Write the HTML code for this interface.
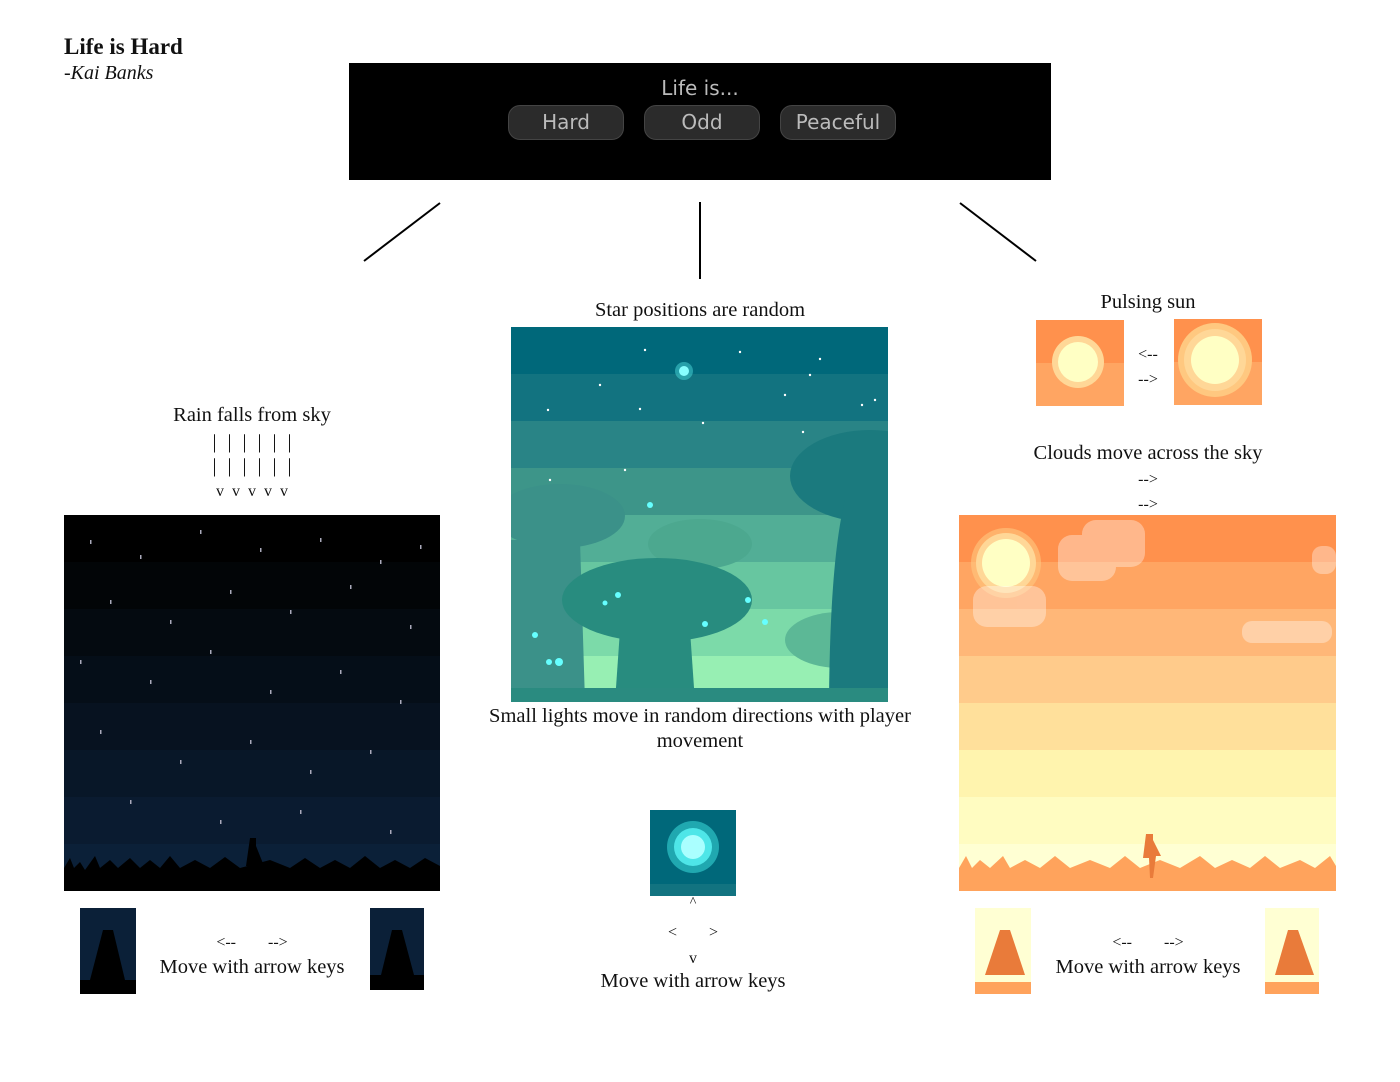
<!DOCTYPE html>
<html><head><meta charset="utf-8"><style>
body{margin:0;background:#fff;width:1400px;height:1082px;overflow:hidden;position:relative;font-family:"Liberation Serif",serif;color:#111}
.t{position:absolute;font-size:20.5px;text-align:center;white-space:nowrap;line-height:25px}
</style></head><body>
<div style="position:absolute;left:64px;top:34px;font-size:23px;font-weight:bold">Life is Hard</div>
<div style="position:absolute;left:64px;top:62px;font-size:20px;font-style:italic">-Kai Banks</div>
<div style="position:absolute;left:349px;top:63px;width:702px;height:117px;background:#000;font-family:'DejaVu Sans',sans-serif;color:#bbb">
 <div style="position:absolute;left:0;width:702px;top:13px;text-align:center;font-size:20px">Life is...</div>
 <div style="position:absolute;left:159px;top:42px;width:114px;height:33px;border-radius:12px;background:#2b2b2b;border:1px solid #444;text-align:center;line-height:33px;font-size:20px">Hard</div>
 <div style="position:absolute;left:295px;top:42px;width:114px;height:33px;border-radius:12px;background:#2b2b2b;border:1px solid #444;text-align:center;line-height:33px;font-size:20px">Odd</div>
 <div style="position:absolute;left:431px;top:42px;width:114px;height:33px;border-radius:12px;background:#2b2b2b;border:1px solid #444;text-align:center;line-height:33px;font-size:20px">Peaceful</div>
</div>
<svg style="position:absolute;left:0;top:0" width="1400" height="1082">
<defs><clipPath id="tc"><rect x="511" y="327" width="377" height="375"/></clipPath></defs>
<line x1="440" y1="203" x2="364" y2="261" stroke="#000" stroke-width="2"/>
<line x1="700" y1="202" x2="700" y2="279" stroke="#000" stroke-width="2"/>
<line x1="960" y1="203" x2="1036" y2="261" stroke="#000" stroke-width="2"/>
<!-- night -->
<g>
<rect x="64" y="515" width="376" height="47" fill="#000"/>
<rect x="64" y="562" width="376" height="47" fill="#020507"/>
<rect x="64" y="609" width="376" height="47" fill="#040a10"/>
<rect x="64" y="656" width="376" height="47" fill="#050e18"/>
<rect x="64" y="703" width="376" height="47" fill="#071220"/>
<rect x="64" y="750" width="376" height="47" fill="#081728"/>
<rect x="64" y="797" width="376" height="47" fill="#0a1b30"/>
<rect x="64" y="844" width="376" height="47" fill="#0b2038"/>
<g fill="#aab">
<rect x="90" y="540" width="1.5" height="4"/><rect x="140" y="555" width="1.5" height="4"/><rect x="200" y="530" width="1.5" height="4"/><rect x="260" y="548" width="1.5" height="4"/><rect x="320" y="538" width="1.5" height="4"/><rect x="380" y="560" width="1.5" height="4"/><rect x="420" y="545" width="1.5" height="4"/>
<rect x="110" y="600" width="1.5" height="4"/><rect x="170" y="620" width="1.5" height="4"/><rect x="230" y="590" width="1.5" height="4"/><rect x="290" y="610" width="1.5" height="4"/><rect x="350" y="585" width="1.5" height="4"/><rect x="410" y="625" width="1.5" height="4"/>
<rect x="80" y="660" width="1.5" height="4"/><rect x="150" y="680" width="1.5" height="4"/><rect x="210" y="650" width="1.5" height="4"/><rect x="270" y="690" width="1.5" height="4"/><rect x="340" y="670" width="1.5" height="4"/><rect x="400" y="700" width="1.5" height="4"/>
<rect x="100" y="730" width="1.5" height="4"/><rect x="180" y="760" width="1.5" height="4"/><rect x="250" y="740" width="1.5" height="4"/><rect x="310" y="770" width="1.5" height="4"/><rect x="370" y="750" width="1.5" height="4"/><rect x="130" y="800" width="1.5" height="4"/><rect x="220" y="820" width="1.5" height="4"/><rect x="300" y="810" width="1.5" height="4"/><rect x="390" y="830" width="1.5" height="4"/>
</g>
<path d="M64 891 L64 868 L70 858 L74 868 L80 862 L85 870 L95 856 L100 868 L110 860 L118 868 L130 858 L140 868 L150 860 L160 868 L170 856 L180 868 L195 860 L210 868 L225 857 L240 868 L270 860 L290 868 L305 858 L320 868 L335 860 L350 868 L365 856 L380 868 L395 860 L410 868 L425 858 L440 866 L440 891Z" fill="#000"/>
<path d="M250 838 h6 v8 l8 20 h-6 l-2 12 h-3 l-1 -12 h-6z" fill="#000"/>
</g>
<!-- teal -->
<g clip-path="url(#tc)">
<rect x="511" y="327" width="377" height="47" fill="#00687a"/>
<rect x="511" y="374" width="377" height="47" fill="#127380"/>
<rect x="511" y="421" width="377" height="47" fill="#298486"/>
<rect x="511" y="468" width="377" height="47" fill="#3d9589"/>
<rect x="511" y="515" width="377" height="47" fill="#52ae96"/>
<rect x="511" y="562" width="377" height="47" fill="#67c6a0"/>
<rect x="511" y="609" width="377" height="47" fill="#7cdaa9"/>
<rect x="511" y="656" width="377" height="46" fill="#97efb3"/>
<ellipse cx="700" cy="544" rx="52" ry="25" fill="#4ca88f"/>
<ellipse cx="840" cy="640" rx="55" ry="28" fill="#5cb896"/>
<ellipse cx="560" cy="516" rx="65" ry="32" fill="#3b9189"/>
<path d="M511 540 L580 540 L585 702 L511 702Z" fill="#3b9189"/>
<ellipse cx="657" cy="600" rx="95" ry="42" fill="#288c7f"/>
<path d="M620 630 L690 630 L695 702 L615 702Z" fill="#288c7f"/>
<ellipse cx="870" cy="476" rx="80" ry="46" fill="#1b7a7e"/>
<path d="M845 500 L888 500 L888 702 L829 702 Q830 560 845 500Z" fill="#1b7a7e"/>
<rect x="511" y="688" width="377" height="14" fill="#2a8b80"/>
<circle cx="684" cy="371" r="9" fill="#3fc6c9" opacity=".6"/><circle cx="684" cy="371" r="5" fill="#8ff"/>
<g fill="#fff"><circle cx="645" cy="350" r="1.2"/><circle cx="740" cy="352" r="1.2"/><circle cx="810" cy="375" r="1.2"/><circle cx="785" cy="395" r="1.2"/><circle cx="875" cy="400" r="1.2"/><circle cx="548" cy="410" r="1.2"/><circle cx="640" cy="409" r="1.2"/><circle cx="820" cy="359" r="1.2"/><circle cx="862" cy="405" r="1.2"/><circle cx="600" cy="385" r="1.2"/><circle cx="703" cy="423" r="1.2"/><circle cx="803" cy="432" r="1.2"/><circle cx="550" cy="480" r="1.2"/><circle cx="625" cy="470" r="1.2"/></g>
<g fill="#6ff"><circle cx="535" cy="635" r="3"/><circle cx="559" cy="662" r="4"/><circle cx="549" cy="662" r="3"/><circle cx="618" cy="595" r="3"/><circle cx="705" cy="624" r="3"/><circle cx="748" cy="600" r="3"/><circle cx="765" cy="622" r="3"/><circle cx="650" cy="505" r="3"/><circle cx="605" cy="603" r="2.5"/></g>
</g>
<!-- orange -->
<g>
<rect x="959" y="515" width="377" height="47" fill="#ff914d"/>
<rect x="959" y="562" width="377" height="47" fill="#ffa562"/>
<rect x="959" y="609" width="377" height="47" fill="#ffb778"/>
<rect x="959" y="656" width="377" height="47" fill="#ffcb8b"/>
<rect x="959" y="703" width="377" height="47" fill="#ffe09b"/>
<rect x="959" y="750" width="377" height="47" fill="#fff4ae"/>
<rect x="959" y="797" width="377" height="47" fill="#fffcc1"/>
<rect x="959" y="844" width="377" height="47" fill="#ffffd3"/>
<circle cx="1006" cy="563" r="35" fill="#ffc880" opacity=".6"/><circle cx="1006" cy="563" r="30" fill="#ffd797"/><circle cx="1006" cy="563" r="24" fill="#ffffc4"/>
<g fill="#fff" opacity=".35"><rect x="1058" y="535" width="58" height="46" rx="14"/><rect x="1082" y="520" width="63" height="47" rx="14"/><rect x="973" y="586" width="73" height="41" rx="14"/><rect x="1242" y="621" width="90" height="22" rx="10"/><rect x="1312" y="546" width="24" height="28" rx="10"/></g>
<path d="M959 891 L959 868 L966 856 L972 868 L980 860 L990 868 L1003 856 L1010 868 L1025 860 L1040 868 L1055 856 L1070 868 L1090 860 L1110 868 L1125 856 L1140 868 L1160 860 L1180 868 L1200 856 L1215 868 L1232 860 L1250 868 L1265 856 L1280 868 L1300 860 L1315 868 L1330 856 L1336 866 L1336 891Z" fill="#ffa35c"/>
<path d="M1146 834 h7 v6 l8 16 h-5 l-3 22 h-3 l-1 -20 h-6z" fill="#e97b3a"/>
</g>
<!-- sun thumbs -->
<rect x="1036" y="320" width="88" height="86" fill="#ffa562"/><rect x="1036" y="320" width="88" height="43" fill="#ff914d"/>
<circle cx="1078" cy="362" r="26" fill="#ffd797"/><circle cx="1078" cy="362" r="20" fill="#ffffc4"/>
<rect x="1174" y="319" width="88" height="86" fill="#ffa562"/><rect x="1174" y="319" width="88" height="43" fill="#ff914d"/>
<circle cx="1215" cy="360" r="37" fill="#ffc880"/><circle cx="1215" cy="360" r="31" fill="#ffd797"/><circle cx="1215" cy="360" r="24" fill="#ffffc4"/>
<!-- orb -->
<rect x="650" y="810" width="86" height="86" fill="#00687a"/><rect x="650" y="884" width="86" height="12" fill="#127380"/>
<circle cx="693" cy="847" r="26" fill="#20a8b0"/><circle cx="693" cy="847" r="19" fill="#4ee6e8"/><circle cx="693" cy="847" r="12" fill="#aff"/>
<!-- player thumbs night -->
<rect x="80" y="908" width="56" height="86" fill="#0b2038"/><path d="M90 980 L103 930 h10 l12 50z" fill="#000"/><rect x="80" y="980" width="56" height="14" fill="#000"/>
<rect x="370" y="908" width="54" height="82" fill="#0b2038"/><path d="M381 975 L392 930 h10 l12 45z" fill="#000"/><rect x="370" y="975" width="54" height="15" fill="#000"/>
<!-- player thumbs day -->
<rect x="975" y="908" width="56" height="86" fill="#ffffd3"/><path d="M985 975 L1000 930 h10 l15 45z" fill="#e97b3a"/><rect x="975" y="982" width="56" height="12" fill="#ffa35c"/>
<rect x="1265" y="908" width="54" height="86" fill="#ffffd3"/><path d="M1275 975 L1288 930 h10 l16 45z" fill="#e97b3a"/><rect x="1265" y="982" width="54" height="12" fill="#ffa35c"/>
</svg>
<div class="t" style="left:142px;width:220px;top:403px">Rain falls from sky</div>
<div class="t" style="left:152px;width:200px;top:430px;font-size:20px;line-height:24px;word-spacing:6px">| | | | | |<br>| | | | | |</div>
<div class="t" style="left:152px;width:200px;top:481px;font-size:16px;line-height:22px">v&nbsp;&nbsp;v&nbsp;&nbsp;v&nbsp;&nbsp;v&nbsp;&nbsp;v</div>
<div class="t" style="left:550px;width:300px;top:298px">Star positions are random</div>
<div class="t" style="left:470px;width:460px;top:704px;white-space:normal">Small lights move in random directions with player movement</div>
<div class="t" style="left:1048px;width:200px;top:290px">Pulsing sun</div>
<div class="t" style="left:1128px;width:40px;top:342px;font-size:16px">&lt;--<br>--&gt;</div>
<div class="t" style="left:1000px;width:296px;top:441px">Clouds move across the sky</div>
<div class="t" style="left:1128px;width:40px;top:467px;font-size:16px">--&gt;<br>--&gt;</div>
<div class="t" style="left:152px;width:200px;top:930px;font-size:16px">&lt;--&nbsp;&nbsp;&nbsp;&nbsp;&nbsp;&nbsp;&nbsp;&nbsp;--&gt;</div>
<div class="t" style="left:142px;width:220px;top:955px">Move with arrow keys</div>
<div class="t" style="left:1048px;width:200px;top:930px;font-size:16px">&lt;--&nbsp;&nbsp;&nbsp;&nbsp;&nbsp;&nbsp;&nbsp;&nbsp;--&gt;</div>
<div class="t" style="left:1038px;width:220px;top:955px">Move with arrow keys</div>
<div class="t" style="left:643px;width:100px;top:893px;font-size:14px;line-height:20px">^</div>
<div class="t" style="left:643px;width:100px;top:920px;font-size:16px">&lt;&nbsp;&nbsp;&nbsp;&nbsp;&nbsp;&nbsp;&nbsp;&nbsp;&gt;</div>
<div class="t" style="left:643px;width:100px;top:946px;font-size:16px">v</div>
<div class="t" style="left:583px;width:220px;top:969px">Move with arrow keys</div>
</body></html>
